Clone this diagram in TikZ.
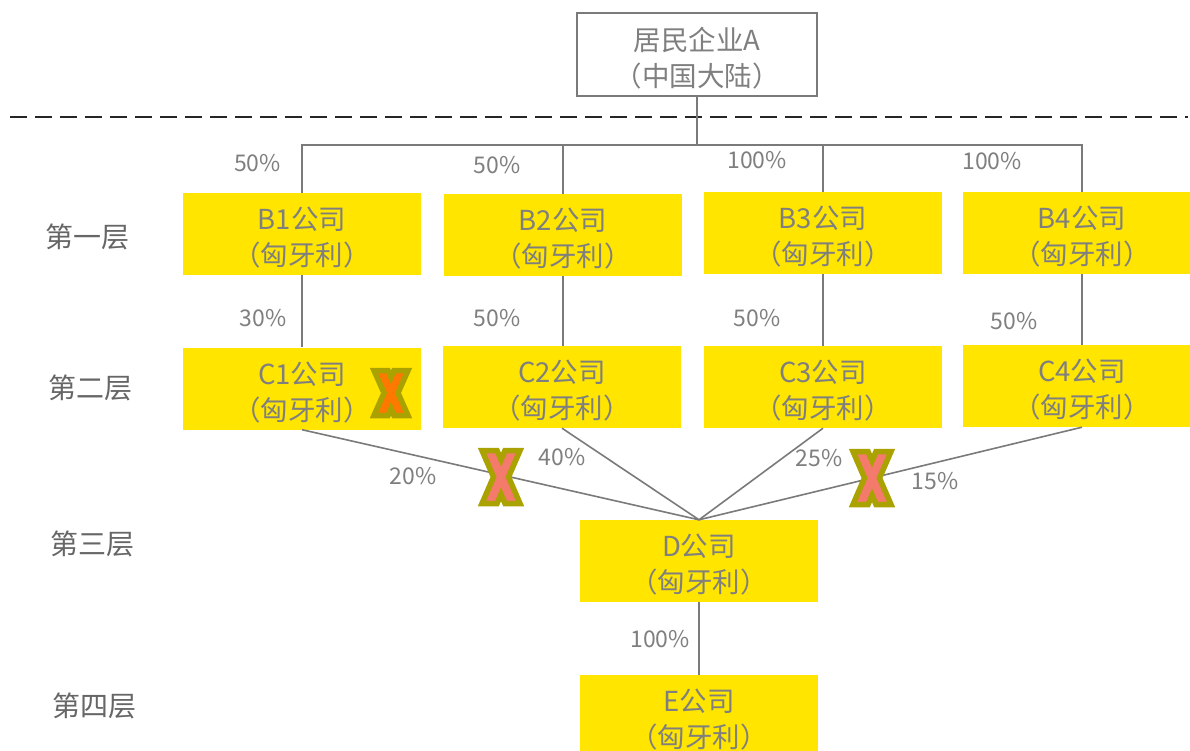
\documentclass[tikz,border=0pt]{standalone}
\usepackage{fontspec}
\setmainfont{Noto Sans CJK SC}
\definecolor{boxyellow}{HTML}{FFE500}
\definecolor{txtgray}{HTML}{7F7F7F}
\definecolor{laygray}{HTML}{666666}
\definecolor{linegray}{HTML}{7A7A7A}
\definecolor{xolive}{HTML}{AAA200}
\definecolor{xorange}{HTML}{FF7800}
\definecolor{xsalmon}{HTML}{F47A6C}
\newcommand{\lowr}[1]{\raisebox{-4pt}[\height][\depth]{#1}}
\newcommand{\cotext}[2]{\lowr{#1}\\\lowr{#2}}
\tikzset{
  cobox/.style={fill=boxyellow, draw=none, minimum width=238pt, minimum height=82pt,
    inner sep=0pt, align=center, text=txtgray, font=\fontsize{27.5}{36}\selectfont},
  topbox/.style={fill=white, draw=linegray, line width=1.3pt, minimum width=240pt, minimum height=83pt,
    inner sep=0pt, align=center, text=txtgray, font=\fontsize{27.5}{36}\selectfont},
  layer/.style={text=laygray, font=\fontsize{28}{32}\selectfont, inner sep=0pt},
  pct/.style={text=txtgray, font=\fontsize{23}{26}\selectfont, inner sep=0pt},
  link/.style={draw=linegray, line width=1.6pt},
}
\newcommand{\xshape}[6]{% cx cy w h s fillcolor
  \filldraw[fill=#6, draw=xolive, line width=5.5pt, line join=miter]
    (#1-#3,#2-#4) -- (#1-#3+#5,#2-#4) -- (#1,{#2-#4*#5/(2*#3-#5)}) -- (#1+#3-#5,#2-#4) -- (#1+#3,#2-#4)
    -- (#1+#5/2,#2) -- (#1+#3,#2+#4) -- (#1+#3-#5,#2+#4) -- (#1,{#2+#4*#5/(2*#3-#5)})
    -- (#1-#3+#5,#2+#4) -- (#1-#3,#2+#4) -- (#1-#5/2,#2) -- cycle;}
\begin{document}
\begin{tikzpicture}[x=1pt,y=-1pt]
\useasboundingbox (0,0) rectangle (1190,751);
% top entity
\node[topbox] (A) at (697,54.5) {\cotext{居民企业A}{（中国大陆）}};
\draw[black!85, line width=1.9pt, dash pattern=on 17pt off 8pt] (10,117) -- (1188,117);
% first layer
\node[cobox] (B1) at (302,234) {\cotext{B1公司}{（匈牙利）}};
\node[cobox] (B2) at (563,235) {\cotext{B2公司}{（匈牙利）}};
\node[cobox] (B3) at (823,233) {\cotext{B3公司}{（匈牙利）}};
\node[cobox] (B4) at (1082,233) {\cotext{B4公司}{（匈牙利）}};
% second layer
\node[cobox] (C1) at (302,388.5) {\cotext{C1公司}{（匈牙利）}};
\node[cobox] (C2) at (562,387) {\cotext{C2公司}{（匈牙利）}};
\node[cobox] (C3) at (823,387) {\cotext{C3公司}{（匈牙利）}};
\node[cobox] (C4) at (1082,386) {\cotext{C4公司}{（匈牙利）}};
% third & fourth layer
\node[cobox] (D) at (699,561) {\cotext{D公司}{（匈牙利）}};
\node[cobox] (E) at (699,716) {\cotext{E公司}{（匈牙利）}};
% bus
\coordinate (bus) at (697,145);
\draw[link] (A.south) -- (bus);
\draw[link] (B1.north) |- (bus) -| (B4.north);
\draw[link] (B2.north) -- (B2.north |- bus);
\draw[link] (B3.north) -- (B3.north |- bus);
% B -> C
\draw[link] (B1.south) -- (C1.north);
\draw[link] (B2.south) -- (C2.north -| B2.south);
\draw[link] (B3.south) -- (C3.north);
\draw[link] (B4.south) -- (C4.north);
% C -> D
\draw[link] (C1.south) -- (D.north);
\draw[link] (C2.south) -- (D.north);
\draw[link] (C3.south) -- (D.north);
\draw[link] (C4.south) -- (D.north);
% D -> E
\draw[link] (D.south) -- (E.north);
% layer labels
\node[layer] (L1) at (87.5,237) {第一层};
\node[layer] (L2) at (90,388) {第二层};
\node[layer] (L3) at (92,544) {第三层};
\node[layer] (L4) at (94,706) {第四层};
% percentages
\node[pct] (p1) at (257.5,163.5) {50\%};
\node[pct] (p2) at (497,165) {50\%};
\node[pct] (p3) at (757,160) {100\%};
\node[pct] (p4) at (992,161) {100\%};
\node[pct] (p5) at (263,318) {30\%};
\node[pct] (p6) at (497,318) {50\%};
\node[pct] (p7) at (757,318) {50\%};
\node[pct] (p8) at (1014,321) {50\%};
\node[pct] (p9) at (413,476) {20\%};
\node[pct] (p10) at (562,457) {40\%};
\node[pct] (p11) at (819,458) {25\%};
\node[pct] (p12) at (935,481) {15\%};
\node[pct] (p13) at (660,639) {100\%};
% cross marks
\xshape{391}{393}{17}{22.5}{14}{xorange}
\xshape{501}{477}{19}{26.5}{15}{xsalmon}
\xshape{872}{478}{19}{26.5}{15}{xsalmon}
\end{tikzpicture}
\end{document}
